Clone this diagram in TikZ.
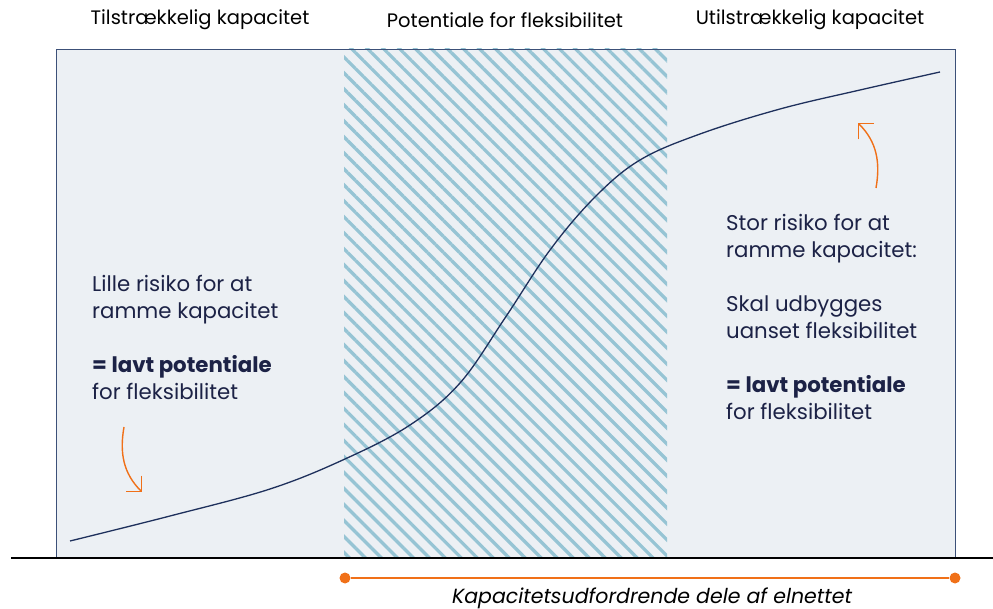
\documentclass[tikz,border=0pt]{standalone}
\usepackage{fontspec}
\setmainfont{Poppins}
\usetikzlibrary{arrows.meta,patterns.meta}
\definecolor{navy}{RGB}{28,34,70}
\definecolor{curveblue}{RGB}{30,48,92}
\definecolor{frameblue}{RGB}{60,80,120}
\definecolor{bgfill}{RGB}{236,240,244}
\definecolor{hatchblue}{RGB}{150,196,212}
\definecolor{orangeline}{RGB}{240,112,24}
\begin{document}
\begin{tikzpicture}[x=1pt,y=1pt,
  head/.style={font=\fontsize{19.5}{23}\selectfont,text=black},
  note/.style={font=\fontsize{21.3}{27}\selectfont,text=navy,align=left,anchor=north west,inner sep=0pt},
  turnarrow/.style={draw=orangeline,line width=1.4pt,
    -{Straight Barb[length=11pt,width=22pt,line width=1.4pt]}},
  dot/.style={circle,fill=orangeline,inner sep=0pt,minimum size=11pt}]
\useasboundingbox (0,0) rectangle (993,608);
% panel and hatched middle band
\fill[bgfill] (56,50) rectangle (955,559);
\fill[pattern={Lines[angle=-45,distance=11.3pt,line width=3.3pt]},pattern color=hatchblue] (344,50) rectangle (667,559);
\draw[frameblue,line width=0.8pt] (56,50) rectangle (955,559);
\draw[black,line width=2.4pt] (11,50) -- (993,50);
% headings
\node[head] (low) at (200,588) {Tilstrækkelig kapacitet};
\node[head] (mid) at (505,588) {Potentiale for fleksibilitet};
\node[head] (high) at (810,588) {Utilstrækkelig kapacitet};
% S-curve
\draw[curveblue,line width=1.3pt] plot[smooth,tension=0.6] coordinates {
  (70,67) (170,92) (270,119) (345,149) (410,183) (460,225) (505,290)
  (550,358) (595,411) (640,448) (700,474) (780,499) (860,518) (940,536)};
% notes
\node[note] (lille) at (92,333) {Lille risiko for at\\ramme kapacitet\\[27pt]
  \textbf{= lavt potentiale}\\for fleksibilitet};
\node[note] (stor) at (726,394) {Stor risiko for at\\ramme kapacitet:\\[27pt]
  Skal udbygges\\uanset fleksibilitet\\[27pt]
  \textbf{= lavt potentiale}\\for fleksibilitet};
\coordinate (a1) at (124,181);
\coordinate (a2) at (142,116);
\coordinate (b1) at (876,420);
\coordinate (b2) at (858,485);
\path[turnarrow] (a1) to[out=260,in=135] (a2);
\path[turnarrow] (b1) to[out=80,in=-45] (b2);
% challenged part of the grid
\node[dot] (kstart) at (345,30) {};
\node[dot] (kend) at (955,30) {};
\path[draw=orangeline,line width=1.6pt] (kstart) -- (kend);
\node[font=\fontsize{20.5}{24}\selectfont\itshape,text=black,anchor=base] (kap) at (652,5) {Kapacitetsudfordrende dele af elnettet};
\end{tikzpicture}
\end{document}
